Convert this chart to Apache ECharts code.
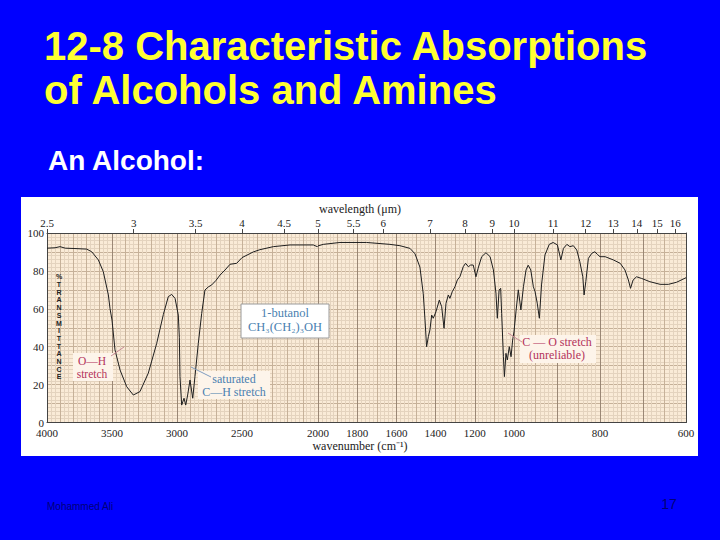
<!DOCTYPE html>
<html>
<head>
<meta charset="utf-8">
<script src="https://cdn.jsdelivr.net/npm/echarts@6/dist/echarts.min.js"></script>
<style>
html,body{margin:0;padding:0;background:#0000ff;}
#panel{position:absolute;left:21px;top:197px;width:677px;height:259px;background:#ffffff;}
#c{position:absolute;left:0;top:0;width:720px;height:540px;}
</style>
</head>
<body>
<div id="panel"></div>
<div id="c"></div>
<script>
// ---------------- DATA ----------------
const wavenumbers = [4000,3938,3900,3860,3785,3695,3656,3605,3567,3528,3515,3500,3477,3438,3387,3336,3285,3221,3156,3105,3067,3041,3015,2990,2982,2977,2964,2946,2933,2918,2900,2879,2862,2836,2810,2785,2760,2733,2700,2669,2630,2592,2541,2500,2426,2382,2294,2184,2031,2005,2000,1973,1888,1752,1633,1582,1531,1505,1480,1463,1454,1446,1437,1429,1420,1412,1398,1381,1369,1357,1347,1335,1327,1315,1301,1289,1276,1259,1247,1233,1221,1208,1194,1183,1165,1143,1122,1105,1092,1085,1076,1068,1063,1054,1049,1041,1034,1024,1015,1007,1000,995,990,984,978,972,967,961,955,951,946,941,936,928,918,909,899,891,885,877,870,862,854,847,840,837,833,827,819,812,806,800,788,769,753,742,734,729,723,715,703,684,660,641,622,600];
const transmittance = [92,92.2,92.8,92,91.8,91.5,90.1,85.8,79.6,67.3,60,54,38.3,27.7,18.9,14.5,16.3,26,41.8,57,66.4,67.6,65.5,56.7,45,24.2,9.2,12.8,9.2,14.5,22.4,12.8,24.2,41.8,57.6,69.9,71.5,72.6,75,77.8,80.5,83.5,84,87,90,91.2,92.8,93.7,93.7,92.8,93.2,94,95,95,94,93.3,91.9,89,82,68,54,40,45.3,48.8,56.7,55,58.5,64.6,61.1,49.7,62.9,67.3,65.5,69,71.7,75.2,76.9,82.2,84,82.2,83.1,83.1,76.9,81.4,87.5,89.6,87.5,80.5,68.2,55,69.9,70.8,57.6,34.7,24.2,36.5,33,40,34.7,43.5,48,59.4,70,59.4,71.7,80.5,83,80.5,71.7,69,63,55,72.6,88.4,94,95,93.7,85.8,91.9,94,92.8,93.3,91,84.9,76.9,67.3,74.3,86.6,89.3,90.1,88.7,87.5,87.5,85.8,84,80.5,75.2,70.8,75.2,76.9,76,74.3,72.9,72.9,74,76.4];
const wavenumberTicks = [4000,3500,3000,2500,2000,1800,1600,1400,1200,1000,800,600];
const wavelengthTicks = [2.5,3,3.5,4,4.5,5,5.5,6,7,8,9,10,11,12,13,14,15,16];
const transmittanceTicks = [0,20,40,60,80,100];
const transmittanceLetters = ['%','T','R','A','N','S','M','I','T','T','A','N','C','E'];

// ---------------- LAYOUT ----------------
// the printed wavenumber scale changes at 2500, 2000 and 1000 cm-1
const segs = [
  {min:2500, max:4000, left:47,  width:195, interval:100, minor:3, dark:500},
  {min:2000, max:2500, left:242, width:76,  interval:100, minor:4, dark:null},
  {min:1000, max:2000, left:318, width:196, interval:100, minor:5, dark:200},
  {min:600,  max:1000, left:514, width:172, interval:50,  minor:5, dark:100}
];
const TOP = 233, HEIGHT = 189.5;
const serif = '"Liberation Serif","Times New Roman",serif';
const sans = '"Liberation Sans",Arial,sans-serif';
const C_MAJOR = '#c6b199', C_MINOR = '#e4d3be', C_DARK = '#9a8775', C_FRAME = '#444';

function segIndexOf(v){ for (let i=0;i<segs.length;i++){ if (v>=segs[i].min-1e-6 && v<=segs[i].max+1e-6) return i; } return -1; }

const grids = [], xAxes = [], yAxes = [], series = [];
segs.forEach((s,i)=>{
  grids.push({left:s.left, width:s.width, top:TOP, height:HEIGHT, show:true, backgroundColor:'#FAEBD7', borderWidth:0});
  const botVals = wavenumberTicks.filter(v=>segIndexOf(v)===i);
  const topVals = wavelengthTicks.map(l=>10000/l).filter(v=>segIndexOf(v)===i);
  xAxes.push({
    gridIndex:i, type:'value', position:'bottom', min:s.min, max:s.max, inverse:true, interval:s.interval,
    axisLine:{show:true, onZero:false, lineStyle:{color:C_FRAME, width:1}},
    axisTick:{show:false},
    axisLabel:{show:botVals.length>0, customValues:botVals, formatter:v=>String(Math.round(v)), fontFamily:serif, fontSize:11, color:'#222', margin:5, hideOverlap:false},
    splitLine:{show:true, lineStyle:{color:C_MAJOR, width:1}},
    minorTick:{show:false, splitNumber:s.minor},
    minorSplitLine:{show:true, lineStyle:{color:C_MINOR, width:1}}
  });
  xAxes.push({
    gridIndex:i, type:'value', position:'top', min:s.min, max:s.max, inverse:true,
    axisLine:{show:true, onZero:false, lineStyle:{color:C_FRAME, width:1}},
    axisTick:{show:topVals.length>0, customValues:topVals, length:4, inside:false, lineStyle:{color:C_FRAME}},
    axisLabel:{show:topVals.length>0, customValues:topVals, formatter:v=>String(Math.round(10000/v*10)/10), fontFamily:serif, fontSize:11, color:'#222', margin:5, hideOverlap:false},
    splitLine:{show:false}
  });
  xAxes.push({
    gridIndex:i, type:'value', show:s.dark!==null, min:s.min, max:s.max, inverse:true, interval:s.dark||100,
    axisLine:{show:false}, axisTick:{show:false}, axisLabel:{show:false},
    splitLine:{show:true, lineStyle:{color:C_DARK, width:1}}
  });
  yAxes.push({
    gridIndex:i, type:'value', min:0, max:100, interval:10, position: i===segs.length-1 ? 'right' : 'left',
    axisLine:{show: i===0 || i===segs.length-1, onZero:false, lineStyle:{color:C_FRAME, width:1}},
    axisTick:{show:false},
    axisLabel:{show:i===0, customValues:transmittanceTicks, fontFamily:serif, fontSize:11, color:'#222', margin:3},
    splitLine:{show:true, lineStyle:{color:C_MAJOR, width:1}},
    minorTick:{show:false, splitNumber:5},
    minorSplitLine:{show:true, lineStyle:{color:C_MINOR, width:1}}
  });
  series.push({
    type:'line', xAxisIndex:3*i, yAxisIndex:i, showSymbol:false, symbol:'none', silent:true, clip:true, z:5,
    lineStyle:{color:'#1e1e1e', width:1},
    data: wavenumbers.map((w,k)=>[w, transmittance[k]]).filter(p=>p[0]>=s.min && p[0]<=s.max)
  });
});

function txt(x,y,text,opt){
  return Object.assign({type:'text', x:x, y:y, z:20, silent:true, style:Object.assign({
    text:text, fill:'#222', fontFamily:serif, fontSize:12, fontWeight:'normal',
    align:'left', textAlign:'left', verticalAlign:'middle', textVerticalAlign:'middle'
  }, opt||{})});
}
function ctxt(x,y,text,opt){ return txt(x,y,text,Object.assign({align:'center',textAlign:'center'},opt||{})); }

const RED = '#b3325a', BLUE = '#4a7fb0';
const graphics = [
  txt(44,46,'12-8 Characteristic Absorptions',{fontFamily:sans,fontWeight:'bold',fontSize:40,fill:'#FFFF33'}),
  txt(44,90,'of Alcohols and Amines',{fontFamily:sans,fontWeight:'bold',fontSize:40,fill:'#FFFF33'}),
  txt(48,160,'An Alcohol:',{fontFamily:sans,fontWeight:'bold',fontSize:28,fill:'#ffffff'}),
  txt(47,506,'Mohammed Ali',{fontFamily:sans,fontSize:10,fill:'#000078'}),
  ctxt(669,504,'17',{fontFamily:sans,fontSize:14,fill:'#000078'}),
  ctxt(360,209,'wavelength (μm)',{fontSize:12}),
  ctxt(360,446,'wavenumber (cm⁻¹)',{fontSize:12}),
  ctxt(59,273,transmittanceLetters.join('\n'),{fontFamily:sans,fontWeight:'bold',fontSize:7,lineHeight:7.7,verticalAlign:'top',textVerticalAlign:'top'}),
  // 1-butanol box
  {type:'rect', z:19, silent:true, shape:{x:241,y:304,width:88,height:34}, style:{fill:'#ffffff',stroke:'#9a9a9a',lineWidth:1}},
  ctxt(285,320,'1-butanol\nCH₃(CH₂)₃OH',{fontSize:12.5,lineHeight:14.5,fill:BLUE}),
  // O-H stretch
  {type:'rect', z:19, silent:true, shape:{x:73,y:353,width:40,height:28}, style:{fill:'#fdf4ea'}},
  ctxt(92,367.5,'O—H\nstretch',{fontSize:11.5,lineHeight:12.4,fill:RED}),
  {type:'line', z:19, silent:true, shape:{x1:111,y1:356,x2:124,y2:347}, style:{stroke:'#c88a96',lineWidth:1}},
  // saturated C-H stretch
  {type:'rect', z:19, silent:true, shape:{x:198,y:371,width:72,height:28}, style:{fill:'#fdf4ea'}},
  ctxt(234,385.3,'saturated\nC—H stretch',{fontSize:12,lineHeight:12.5,fill:BLUE}),
  {type:'line', z:19, silent:true, shape:{x1:191,y1:367,x2:211,y2:377}, style:{stroke:'#7f9cc0',lineWidth:1}},
  // C-O stretch
  {type:'rect', z:19, silent:true, shape:{x:520,y:335,width:76,height:28}, style:{fill:'#fdf4ea'}},
  ctxt(557,348.5,'C — O stretch\n(unreliable)',{fontSize:12,lineHeight:12.8,fill:RED}),
  {type:'line', z:19, silent:true, shape:{x1:508,y1:333,x2:522,y2:342}, style:{stroke:'#c88a96',lineWidth:1}}
];

const chart = echarts.init(document.getElementById('c'), null, {renderer:'svg', width:720, height:540});
chart.setOption({
  animation:false,
  backgroundColor:'transparent',
  grid:grids, xAxis:xAxes, yAxis:yAxes, series:series,
  graphic:{elements:graphics}
});
</script>
</body>
</html>
